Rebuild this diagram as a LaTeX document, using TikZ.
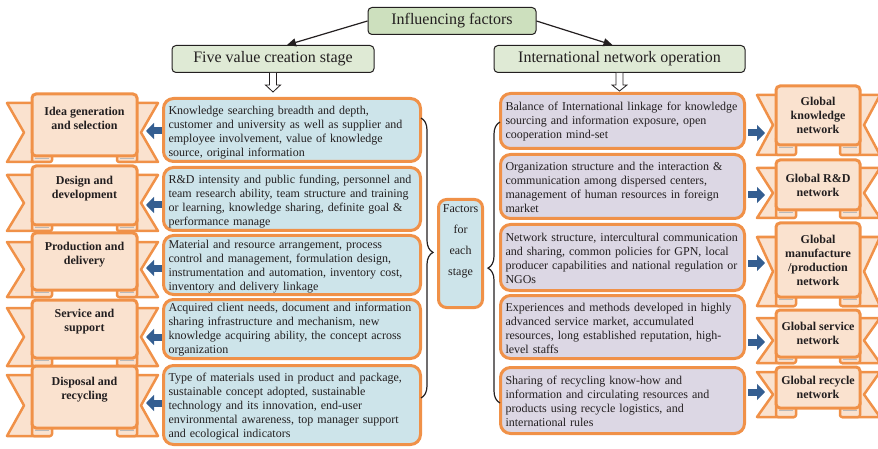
\documentclass[tikz,border=0pt]{standalone}
\usepackage{fontspec}
\setmainfont{Liberation Serif}
\usetikzlibrary{arrows.meta,decorations.pathreplacing,calc}

\definecolor{ribedge}{RGB}{240,145,72}
\definecolor{ribfill}{RGB}{250,226,207}
\definecolor{stagefill}{RGB}{205,228,234}
\definecolor{netfill}{RGB}{220,215,228}
\definecolor{headfill}{RGB}{223,234,213}
\definecolor{rootfill}{RGB}{205,224,190}
\definecolor{arrowblue}{RGB}{52,94,145}
\definecolor{inkgray}{RGB}{35,31,32}

\tikzset{
  header/.style={draw=inkgray, line width=1pt, rounded corners=4pt, fill=headfill,
    minimum height=27pt, inner sep=0pt, font=\fontsize{16}{18}\selectfont, text=inkgray},
  panel/.style={draw=ribedge, line width=3pt, rounded corners=10pt, inner sep=0pt},
  paneltext/.style={align=left, inner sep=0pt, font=\fontsize{12}{14}\selectfont, text=inkgray},
  stagebox/.style={panel, fill=stagefill, minimum width=257pt},
  stagetext/.style={paneltext, text width=247pt},
  netbox/.style={panel, fill=netfill, minimum width=244pt},
  nettext/.style={paneltext, text width=234pt},
  ribpart/.style={draw=ribedge, line width=2.5pt, fill=ribfill, line join=round},
  ribbox/.style={draw=ribedge, line width=3pt, fill=ribfill, rounded corners=4pt, inner sep=0pt},
  ribtext/.style={align=center, inner sep=0pt, font=\bfseries\fontsize{12}{14}\selectfont, text=inkgray},
  flowarrow/.style={draw=inkgray, line width=1.2pt, -{Triangle[length=9pt,width=8pt]}},
  blockarrow/.style={draw=arrowblue, line width=7pt, -{Triangle[length=8pt,width=16pt]}},
  hollowarrow/.style={draw=inkgray, line width=0.8pt, fill=white, line join=miter},
  stagebrace/.style={draw=inkgray, line width=1.2pt, decorate,
    decoration={brace, amplitude=12pt, aspect=0.48}},
}

% Ribbon banner: #1 name, #2/#3 top/bottom of the front panel,
% #4/#5 top/bottom of the tails, #6 label.
% Horizontal extents come from \rbML, \rbMR (panel), \rbOL, \rbOR (tail ends),
% \rbND (notch depth) and \rbTS (label lift).
\newcommand\stageribbon[6]{%
  \draw[ribpart] ({\rbML+18},#4) -- (\rbOL,#4) -- ({\rbOL+\rbND},{(#4+#5)/2})
    -- (\rbOL,#5) -- ({\rbML+18},#5) -- cycle;
  \draw[ribpart] ({\rbMR-18},#4) -- (\rbOR,#4) -- ({\rbOR-\rbND},{(#4+#5)/2})
    -- (\rbOR,#5) -- ({\rbMR-18},#5) -- cycle;
  \draw[ribpart, rounded corners=2pt] (\rbML,{#3-8}) rectangle ({\rbML+20},#5);
  \draw[ribpart, rounded corners=2pt] ({\rbMR-20},{#3-8}) rectangle (\rbMR,#5);
  \draw[gray!55, line width=1.2pt] ({\rbML+3},{#3+2.8}) -- ({\rbML+17},{#3+2.8})
    ({\rbMR-17},{#3+2.8}) -- ({\rbMR-3},{#3+2.8});
  \pgfmathsetmacro\rbW{\rbMR-\rbML}%
  \pgfmathsetmacro\rbH{#3-#2}%
  \node[ribbox, minimum width=\rbW pt, minimum height=\rbH pt] (#1)
    at ({(\rbML+\rbMR)/2},{(#2+#3)/2}) {};
  \node[ribtext] (#1t) at ($(#1.center)+(0,-\rbTS)$) {#6};
}

% Factor panel: #1 name, #2 kind (stage/net), #3 x, #4 y, #5 height,
% #6 downward text offset, #7 text.
\newcommand\factorpanel[7]{%
  \node[#2box, minimum height=#5pt] (#1) at (#3,#4) {};
  \node[#2text] (#1t) at ($(#1.center)+(0,#6)$) {#7};
}

\begin{document}
\begin{tikzpicture}[x=1pt, y=-1pt]
\useasboundingbox (0,0) rectangle (878,449);

% ---- headers ----
\node[header, minimum width=168pt, fill=rootfill] (root) at (452,21) {Influencing factors};
\node[header, minimum width=202pt] (fv) at (273,59) {Five value creation stage};
\node[header, minimum width=251pt] (ino) at (619.5,59) {International network operation};
\draw[flowarrow] (root.west) -- ([xshift=14pt]fv.north);
\draw[flowarrow] (root.east) -- ([xshift=-7pt]ino.north);
\draw[hollowarrow, shift={(fv.south)}] (-3.5,0) -- (-3.5,12) -- (-7.5,12) -- (0,19)
  -- (7.5,12) -- (3.5,12) -- (3.5,0);
\draw[hollowarrow, shift={(ino.south)}] (-3.5,0) -- (-3.5,12) -- (-7.5,12) -- (0,18)
  -- (7.5,12) -- (3.5,12) -- (3.5,0);

% ---- value creation stages (left ribbons) ----
\def\rbML{32}\def\rbMR{137}\def\rbOL{7}\def\rbOR{158}\def\rbND{17}\def\rbTS{7}
\stageribbon{s1}{94}{156}{103}{162}{Idea generation\\and selection}
\stageribbon{s2}{166}{225}{175}{231}{Design and\\development}
\stageribbon{s3}{233}{290}{242}{297}{Production and\\delivery}
\stageribbon{s4}{300}{358}{308}{366}{Service and\\support}
\stageribbon{s5}{366}{428}{375}{436}{Disposal and\\recycling}

% ---- global networks (right ribbons) ----
\def\rbML{776}\def\rbMR{860}\def\rbOL{757}\def\rbOR{880}\def\rbND{16}\def\rbTS{0}
\stageribbon{n1}{86}{145}{95}{155}{Global\\knowledge\\network}
\stageribbon{n2}{160}{210}{168}{218}{Global R\&D\\network}
\stageribbon{n3}{223}{297}{237}{306}{Global\\manufacture\\/production\\network}
\stageribbon{n4}{310}{357}{318}{363}{Global service\\network}
\stageribbon{n5}{367}{408}{372}{417}{Global recycle\\network}

% ---- stage factors ----
\factorpanel{b1}{stage}{292}{130}{63}{3}{Knowledge searching breadth and depth,\\
  customer and university as well as supplier and\\ employee involvement, value of knowledge\\
  source, original information}
\factorpanel{b2}{stage}{292}{199}{63}{3}{R\&D intensity and public funding, personnel and\\
  team research ability, team structure and training\\ or learning, knowledge sharing, definite goal \&\\
  performance manage}
\factorpanel{b3}{stage}{292}{265}{59}{2}{Material and resource arrangement, process\\
  control and management, formulation design,\\ instrumentation and automation, inventory cost,\\
  inventory and delivery linkage}
\factorpanel{b4}{stage}{292}{329}{59}{1}{Acquired client needs, document and information\\
  sharing infrastructure and mechanism, new\\ knowledge acquiring ability, the concept across\\
  organization}
\factorpanel{b5}{stage}{292}{405}{79}{2}{Type of materials used in product and package,\\
  sustainable concept adopted, sustainable\\ technology and its innovation, end-user\\
  environmental awareness, top manager support\\ and ecological indicators}

% ---- network factors ----
\factorpanel{c1}{net}{622.5}{121}{55}{1}{Balance of International linkage for knowledge\\
  sourcing and information exposure, open\\ cooperation mind-set}
\factorpanel{c2}{net}{622.5}{186.5}{64}{1}{Organization structure and the interaction \&\\
  communication among dispersed centers,\\ management of human resources in foreign\\ market}
\factorpanel{c3}{net}{622.5}{257.5}{66}{1}{Network structure, intercultural communication\\
  and sharing, common policies for GPN, local\\ producer capabilities and national regulation or\\ NGOs}
\factorpanel{c4}{net}{622.5}{327}{63}{1}{Experiences and methods developed in highly\\
  advanced service market, accumulated\\ resources, long established reputation, high-\\ level staffs}
\factorpanel{c5}{net}{622.5}{400.5}{66}{1}{Sharing of recycling know-how and\\
  information and circulating resources and\\ products using recycle logistics, and\\ international rules}

% ---- central box ----
\node[panel, fill=stagefill, rounded corners=8pt, minimum width=44pt, minimum height=108pt]
  (fac) at (460.5,253.5) {};
\node[ribtext, font=\fontsize{12}{21}\selectfont] (factext) at ($(fac.center)+(0,-12)$)
  {Factors\\for\\each\\stage};

% ---- braces ----
\coordinate (lbTop) at (421,118);
\coordinate (lbBot) at (421,398);
\coordinate (rbBot) at (500,403);
\coordinate (rbTop) at (500,122);
\draw[stagebrace] (lbTop) -- (lbBot);
\draw[stagebrace] (rbBot) -- (rbTop);

% ---- factor-to-ribbon arrows ----
\foreach \b/\r/\dy in {b1/s1/1, b2/s2/6, b3/s3/3, b4/s4/8, b5/s5/-2}{
  \coordinate (a\b) at ($(\b.west)+(0,\dy)$);
  \draw[blockarrow, shorten >=7.5pt] (a\b) -- (a\b -| \r.east);
}
\foreach \c/\r/\dy in {c1/n1/12, c2/n2/8.5, c3/n3/5.5, c4/n4/15, c5/n5/-8.5}{
  \coordinate (a\c) at ($(\c.east)+(0,\dy)$);
  \draw[blockarrow, shorten <=2pt, shorten >=9.5pt] (a\c) -- (a\c -| \r.west);
}
\end{tikzpicture}
\end{document}
